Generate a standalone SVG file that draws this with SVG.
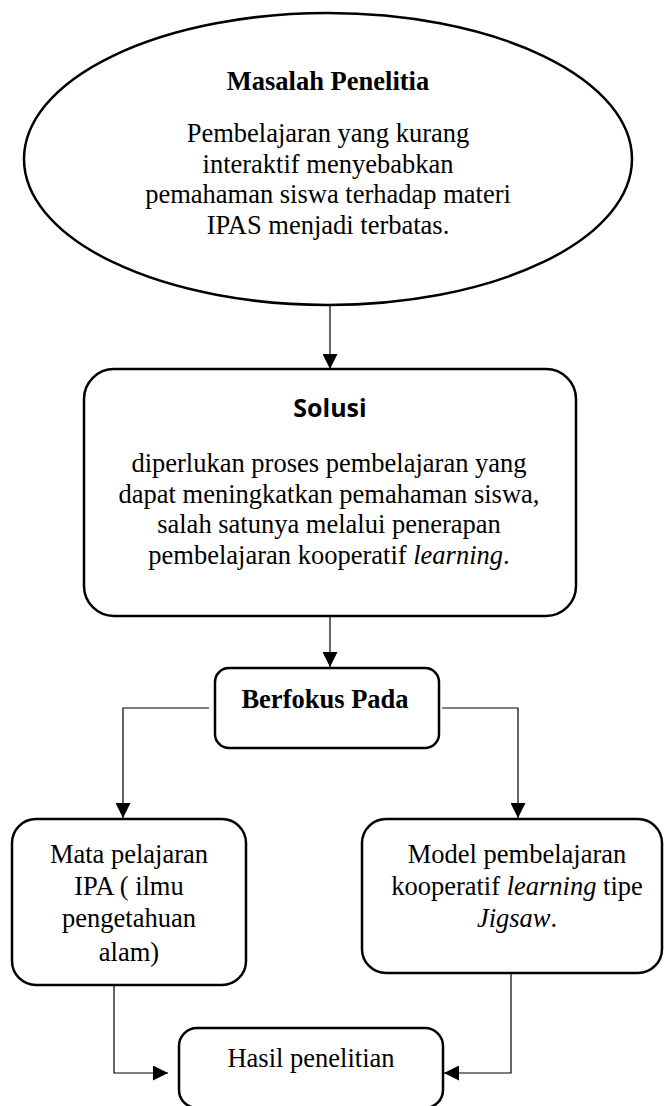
<svg xmlns="http://www.w3.org/2000/svg" width="664" height="1106" viewBox="0 0 664 1106">
<style>
.box{fill:#fff;stroke:#000;stroke-width:2.5}
.t{font-family:"Liberation Serif","Times New Roman",serif;font-size:26.5px;fill:#000;text-anchor:middle}
.b{font-weight:bold}
.s{font-family:"Open Sans","Liberation Sans",sans-serif;font-size:25px;font-weight:bold;fill:#000;text-anchor:middle}
.i{font-style:italic}
.c{fill:none;stroke:#000;stroke-width:1.2}
</style>
<defs>
<marker id="ah" markerUnits="userSpaceOnUse" markerWidth="15" markerHeight="15" viewBox="0 0 15 15" refX="15" refY="7.5" orient="auto">
<path d="M0,0 L15,7.5 L0,15 z" fill="#000"/>
</marker>
</defs>
<rect width="664" height="1106" fill="#fff"/>
<g id="connectors">
<path class="c" d="M330,305 L330,369" marker-end="url(#ah)"/>
<path class="c" d="M330,617 L330,667" marker-end="url(#ah)"/>
<path class="c" d="M209,708 L123,708 L123,818" marker-end="url(#ah)"/>
<path class="c" d="M442,708 L518,708 L518,818" marker-end="url(#ah)"/>
<path class="c" d="M114,986 L114,1073 L168,1073" marker-end="url(#ah)"/>
<path class="c" d="M511,974 L511,1073 L444,1073" marker-end="url(#ah)"/>
</g>
<g id="masalah">
<ellipse class="box" cx="328" cy="159" rx="304" ry="146" stroke-width="2"/>
<text class="t b" x="328" y="90">Masalah Penelitia</text>
<text class="t" x="328" y="142">Pembelajaran yang kurang</text>
<text class="t" x="328" y="172.5">interaktif menyebabkan</text>
<text class="t" x="328" y="203">pemahaman siswa terhadap materi</text>
<text class="t" x="328" y="233.5">IPAS menjadi terbatas.</text>
</g>
<g id="solusi">
<rect class="box" x="84" y="369" width="492" height="247" rx="30"/>
<text class="s" x="330" y="417">Solusi</text>
<text class="t" x="329" y="472">diperlukan proses pembelajaran yang</text>
<text class="t" x="329" y="502.5">dapat meningkatkan pemahaman siswa,</text>
<text class="t" x="329" y="533">salah satunya melalui penerapan</text>
<text class="t" x="329" y="563.5">pembelajaran kooperatif <tspan class="i">learning</tspan>.</text>
</g>
<g id="berfokus">
<rect class="box" x="215" y="668" width="224" height="80" rx="14"/>
<text class="t b" x="325" y="708">Berfokus Pada</text>
</g>
<g id="mata-pelajaran">
<rect class="box" x="12" y="819" width="234" height="166" rx="24"/>
<text class="t" x="129" y="863">Mata pelajaran</text>
<text class="t" x="129" y="895">IPA ( ilmu</text>
<text class="t" x="129" y="927">pengetahuan</text>
<text class="t" x="129" y="961">alam)</text>
</g>
<g id="model">
<rect class="box" x="362" y="819" width="300" height="154" rx="24"/>
<text class="t" x="517" y="863">Model pembelajaran</text>
<text class="t" x="517" y="895">kooperatif <tspan class="i">learning</tspan> tipe</text>
<text class="t" x="517" y="927"><tspan class="i">Jigsaw</tspan>.</text>
</g>
<g id="hasil">
<rect class="box" x="179" y="1028" width="264" height="80" rx="18"/>
<text class="t" x="311" y="1067">Hasil penelitian</text>
</g>
</svg>
